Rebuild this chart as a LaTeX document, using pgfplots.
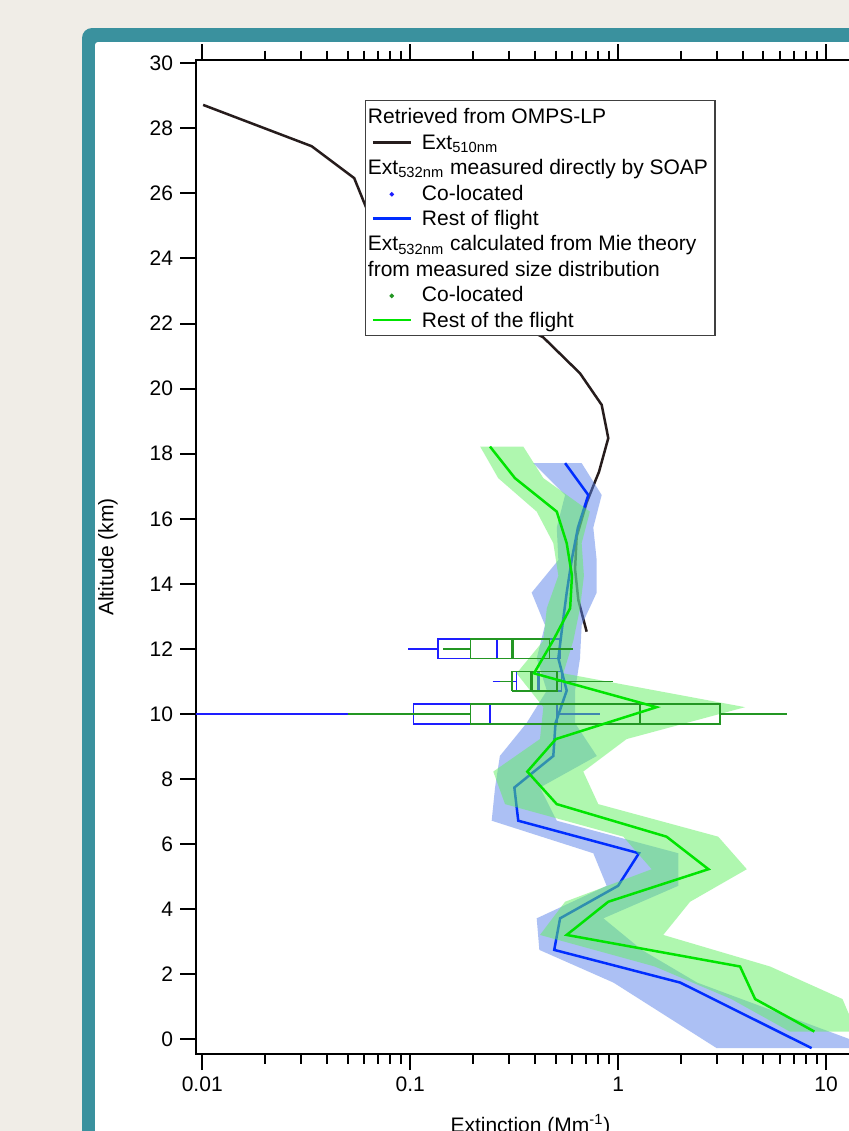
\documentclass[border=0pt]{standalone}
\usepackage{pgfplots}
\pgfplotsset{compat=1.18}
\usepackage{fontspec}
\setmainfont{Liberation Sans}
\definecolor{bgbeige}{RGB}{240,237,231}
\definecolor{cardteal}{RGB}{58,145,158}
\definecolor{omps}{RGB}{38,28,28}
\definecolor{soapline}{RGB}{0,45,255}
\definecolor{mieline}{RGB}{0,228,0}
\definecolor{soapband}{RGB}{91,131,235}
\definecolor{mieband}{RGB}{97,241,97}
\definecolor{soapbox}{RGB}{30,30,255}
\definecolor{miebox}{RGB}{35,150,35}
\newcommand\lfont{\fontsize{10.5}{12.6}\selectfont}

\begin{document}
\begin{tikzpicture}
\useasboundingbox (0,0) rectangle (424.5pt,-565.5pt);
\clip (0,0) rectangle (424.5pt,-565.5pt);
\fill[bgbeige] (0,0) rectangle (424.5pt,-565.5pt);
\fill[cardteal, rounded corners=5pt] (41pt,-14pt) rectangle (470pt,-620pt);
\fill[white, rounded corners=1.5pt] (47.5pt,-21pt) rectangle (470pt,-620pt);
\begin{axis}[
  at={(98pt,-527pt)}, anchor=south west,
  scale only axis, width=334.5pt, height=497pt,
  xmode=log, xmin=0.00933, xmax=15.4,
  ymin=-0.45, ymax=30.1,
  axis line style={line width=1.1pt, black},
  tick align=outside,
  xtick pos=both, ytick pos=left,
  major tick length=8pt, minor tick length=4.75pt,
  tick style={line width=1pt, black},
  xtick={0.01,0.1,1,10}, xticklabels={0.01,0.1,1,10},
  minor xtick={0.02,0.03,0.04,0.05,0.06,0.07,0.08,0.09,0.2,0.3,0.4,0.5,0.6,0.7,0.8,0.9,2,3,4,5,6,7,8,9},
  ytick={0,2,...,30},
  tick label style={font=\lfont},
  /pgf/number format/assume math mode=true,
  xlabel={Extinction (Mm\textsuperscript{-1})},
  ylabel={Altitude (km)},
  xlabel style={at={([yshift=-39pt]axis description cs:0.5,0)}, anchor=base, font=\lfont},
  ylabel style={at={([xshift=-44pt]axis description cs:0,0.5)}, anchor=center, font=\lfont},
  unbounded coords=jump,
  legend style={
    at={(0.2526,0.9598)}, anchor=north west,
    draw=black!75, line width=0.6pt, fill=white,
    font=\lfont,
    inner xsep=3pt, inner ysep=1.55pt,
    column sep=4.5pt, row sep=0pt,
    nodes={inner xsep=0.5pt, inner ysep=0.5pt, text height=9.6pt, text depth=2.1pt},
    cells={anchor=base west},
  },
  legend image code/.code={\draw[#1, line width=1.2pt] (0pt,3.4pt) -- (19pt,3.4pt);},
]
% OMPS-LP profile
\addplot[omps, line width=1.25pt, forget plot] coordinates {
(0.0101,28.72) (0.0336,27.45) (0.0538,26.47) (0.062,25.5) (0.085,24.5) (0.13,23.5)
(0.22,22.5) (0.436,21.58) (0.656,20.47) (0.834,19.5) (0.897,18.48) (0.81,17.45)
(0.706,16.5) (0.632,15.45) (0.621,14.45) (0.644,13.5) (0.706,12.53)};

% SOAP band (lo ascending, hi descending)
\addplot[fill=soapband, fill opacity=0.5, draw=none, forget plot] coordinates {
(2.98,-0.27) (0.95,1.745) (0.418,2.75) (0.406,3.72) (0.881,4.72) (0.76,5.72)
(0.2466,6.72) (0.256,7.74) (0.27,8.71) (0.363,9.72) (0.454,10.72) (0.406,11.71)
(0.445,12.73) (0.384,13.73) (0.516,14.73) (0.507,15.73) (0.556,16.73) (0.391,17.71)
(0.668,17.71) (0.834,16.73) (0.76,15.73) (0.789,14.73) (0.789,13.73) (0.668,12.73)
(0.656,11.71) (0.621,10.72) (0.621,9.72) (0.79,8.71) (0.421,7.74) (0.507,6.72)
(1.95,5.72) (1.95,4.72) (0.85,3.72) (1.3,2.75) (2.4,1.745) (17,-0.27)} -- cycle;

% SOAP co-located boxes
\addplot[soapbox, line width=0.75pt, forget plot] coordinates {
(0.098,12) (0.136,12) (nan,nan) (0.525,12) (0.56,12) (nan,nan)
(0.136,11.7) (0.525,11.7) (0.525,12.3) (0.136,12.3) (0.136,11.7)};
\addplot[soapbox, line width=1.3pt, forget plot] coordinates {(0.261,11.7) (0.261,12.3)};
\addplot[soapbox, line width=0.75pt, forget plot] coordinates {
(0.249,11) (0.325,11) (nan,nan) (0.535,11) (0.56,11) (nan,nan)
(0.325,10.7) (0.535,10.7) (0.535,11.3) (0.325,11.3) (0.325,10.7)};
\addplot[soapbox, line width=1.3pt, forget plot] coordinates {(0.413,10.7) (0.413,11.3)};
\addplot[soapbox, line width=0.75pt, forget plot] coordinates {
(0.009,10) (0.1035,10) (nan,nan) (0.507,10) (0.818,10) (nan,nan)
(0.1035,9.7) (0.507,9.7) (0.507,10.3) (0.1035,10.3) (0.1035,9.7)};
\addplot[soapbox, line width=1.3pt, forget plot] coordinates {(0.242,9.7) (0.242,10.3)};

% SOAP rest of flight
\addplot[soapline, line width=1.25pt, forget plot] coordinates {
(8.53,-0.27) (1.99,1.745) (0.493,2.75) (0.526,3.72) (1.0,4.72) (1.26,5.72)
(0.331,6.72) (0.317,7.74) (0.488,8.71) (0.50,9.72) (0.566,10.72) (0.516,11.71)
(0.54,12.73) (0.566,13.73) (0.598,14.73) (0.641,15.73) (0.719,16.73) (0.556,17.71)};

% Mie band
\addplot[fill=mieband, fill opacity=0.5, draw=none, forget plot] coordinates {
(6.7,0.24) (3.5,1.24) (1.5,2.24) (0.421,3.21) (0.556,4.23) (1.451,5.23)
(1.059,6.23) (0.286,7.23) (0.251,8.23) (0.421,9.23) (0.437,10.21) (0.325,11.25)
(0.437,12.25) (0.454,13.25) (0.516,14.25) (0.488,15.25) (0.406,16.22) (0.265,17.25)
(0.217,18.22)
(0.35,18.22) (0.437,17.25) (0.732,16.22) (0.668,15.25) (0.685,14.25) (0.656,13.25)
(0.609,12.25) (0.545,11.25) (4.08,10.21) (1.099,9.23) (0.68,8.23) (0.803,7.23)
(3.03,6.23) (4.16,5.23) (2.22,4.23) (1.649,3.21) (5.38,2.24) (12,1.24) (14,0.24)} -- cycle;

% Mie co-located boxes
\addplot[miebox, line width=0.75pt, forget plot] coordinates {
(0.144,12) (0.195,12) (nan,nan) (0.467,12) (0.605,12) (nan,nan)
(0.195,11.7) (0.467,11.7) (0.467,12.3) (0.195,12.3) (0.195,11.7)};
\addplot[miebox, line width=1.3pt, forget plot] coordinates {(0.31,11.7) (0.31,12.3)};
\addplot[miebox, line width=0.75pt, forget plot] coordinates {
(0.27,11) (0.308,11) (nan,nan) (0.507,11) (0.942,11) (nan,nan)
(0.308,10.7) (0.507,10.7) (0.507,11.3) (0.308,11.3) (0.308,10.7)};
\addplot[miebox, line width=1.3pt, forget plot] coordinates {(0.384,10.7) (0.384,11.3)};
\addplot[miebox, line width=0.75pt, forget plot] coordinates {
(0.0504,10) (0.195,10) (nan,nan) (3.09,10) (6.47,10) (nan,nan)
(0.195,9.7) (3.09,9.7) (3.09,10.3) (0.195,10.3) (0.195,9.7)};
\addplot[miebox, line width=1.3pt, forget plot] coordinates {(1.274,9.7) (1.274,10.3)};

% Mie rest of the flight
\addplot[mieline, line width=1.25pt, forget plot] coordinates {
(8.79,0.24) (4.56,1.24) (3.86,2.24) (0.566,3.21) (0.897,4.23) (2.72,5.23)
(1.71,6.23) (0.507,7.23) (0.366,8.23) (0.502,9.23) (1.53,10.21) (0.394,11.25)
(0.486,12.25) (0.588,13.25) (0.60,14.25) (0.566,15.25) (0.507,16.22) (0.319,17.25)
(0.242,18.22)};

% legend
\addlegendimage{empty legend}\addlegendentry{\hspace*{-27pt}Retrieved from OMPS-LP}
\addlegendimage{omps}\addlegendentry{Ext\textsubscript{510nm}}
\addlegendimage{empty legend}\addlegendentry{\hspace*{-27pt}Ext\textsubscript{532nm} measured directly by SOAP}
\addlegendimage{legend image code/.code={\fill[soapbox] (9.5pt,2.9pt) circle (0.8pt);}}\addlegendentry{Co-located}
\addlegendimage{soapline}\addlegendentry{Rest of flight}
\addlegendimage{empty legend}\addlegendentry{\hspace*{-27pt}Ext\textsubscript{532nm} calculated from Mie theory}
\addlegendimage{empty legend}\addlegendentry{\hspace*{-27pt}from measured size distribution}
\addlegendimage{legend image code/.code={\fill[miebox] (9.5pt,2.9pt) circle (0.8pt);}}\addlegendentry{Co-located}
\addlegendimage{mieline}\addlegendentry{Rest of the flight}
\end{axis}
\end{tikzpicture}
\end{document}
